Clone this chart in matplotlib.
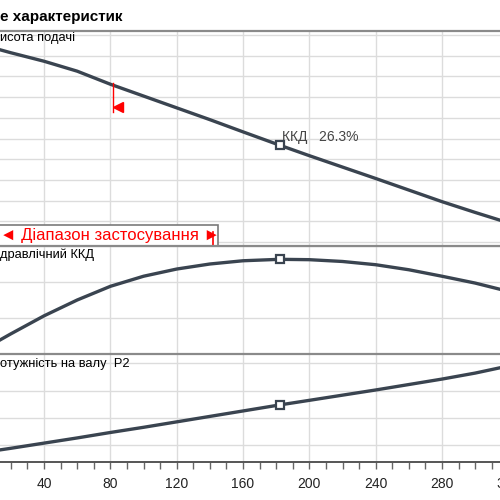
import numpy as np
import matplotlib
matplotlib.use("Agg")
import matplotlib.pyplot as plt
from matplotlib.patches import Rectangle

plt.rcParams['font.family'] = ['Liberation Sans', 'DejaVu Sans']

# flow values
q = [10, 20, 40, 60, 80, 100, 120, 140, 160, 182, 200, 220, 240, 260, 280, 300, 320]
# head, in grid steps
head = [9.36, 9.14, 8.73, 8.25, 7.62, 7.05, 6.48, 5.91, 5.32, 4.68, 4.17, 3.62, 3.07, 2.51, 1.95, 1.43, 0.93]
# hydraulic efficiency, %
eff = [3.0, 5.6, 10.6, 15.0, 18.8, 21.6, 23.6, 25.0, 25.9, 26.3, 26.2, 25.7, 24.8, 23.4, 21.6, 19.7, 17.4]
# shaft power P2, grid steps
power = [0.79, 0.88, 1.07, 1.26, 1.46, 1.65, 1.85, 2.05, 2.25, 2.47, 2.64, 2.83, 3.02, 3.22, 3.42, 3.64, 3.90]

duty_q = 182
duty_head = 4.68
duty_eff = 26.3
duty_power = 2.47
min_q = 81.4
range_end = 144.8

title = "е характеристик"
labels = ["исота подачі", "дравлічний ККД", "отужність на валу  P2"]

line_c = '#3a4450'
grid_c = '#dcdcdc'

fig = plt.figure(figsize=(5, 5), dpi=100)
xl, xw = -0.0446, 340 * 1.6583 / 500

ax1 = fig.add_axes([xl, 0.508, xw, 0.430])
ax2 = fig.add_axes([xl, 0.292, xw, 0.216])
ax3 = fig.add_axes([xl, 0.076, xw, 0.216])

for ax in (ax1, ax2, ax3):
    ax.set_xlim(0, 340)
    ax.set_xticks(np.arange(0, 341, 40))
    ax.grid(True, color=grid_c, lw=1)
    ax.set_axisbelow(True)
    for s in ('left', 'right', 'bottom'):
        ax.spines[s].set_visible(False)
    ax.spines['top'].set_color('#8a8a8a')
    ax.spines['top'].set_linewidth(1.6)
    ax.tick_params(left=False, labelleft=False, bottom=False, labelbottom=False)

ax1.set_ylim(-0.19, 10.19)
ax1.set_yticks(range(0, 11))
ax2.set_ylim(0, 28.6)
ax2.set_yticks([0, 10, 20, 30])
ax3.set_ylim(0.377, 4.34)
ax3.set_yticks([1, 2, 3, 4])

ax1.plot(q, head, color=line_c, lw=2.4, solid_capstyle='round')
ax2.plot(q, eff, color=line_c, lw=2.4)
ax3.plot(q, power, color=line_c, lw=2.4)

for ax, v in ((ax1, duty_head), (ax2, duty_eff), (ax3, duty_power)):
    ax.plot([duty_q], [v], marker='s', ms=6, mfc='white', mec=line_c, mew=1.6, zorder=5)

ax1.text(duty_q + 1.5, 5.07, "ККД   26.3%", color='#444444', fontsize=10, va='center', ha='left')

# minimum flow marker
ax1.plot([min_q, min_q], [6.28, 7.68], color='red', lw=1)
ax1.plot([min_q + 3.3], [6.5], marker='<', ms=7, color='red', mec='red')

# application range bar
ax1.add_patch(Rectangle((0, -0.19), range_end, 1.03, facecolor='white',
                        edgecolor='#7a7a7a', lw=1.2, zorder=4, clip_on=False))
ax1.text(13.5, 0.33, "◄ Діапазон застосування ►", color='red', fontsize=12,
         va='center', ha='left', zorder=6)
ax1.plot([141.7, 141.7], [-0.14, 0.48], color='red', lw=1.2, zorder=6)

# bottom axis
ax3.spines['bottom'].set_visible(True)
ax3.spines['bottom'].set_color('#555555')
ax3.spines['bottom'].set_linewidth(1.4)
ax3.set_xticks(np.arange(40, 341, 40))
ax3.set_xticks(np.arange(0, 341, 10), minor=True)
ax3.tick_params(axis='x', which='both', bottom=True, direction='out', length=5,
                color='#666666', width=1)
ax3.tick_params(axis='x', which='major', labelbottom=True, labelsize=10, pad=6, labelcolor='#222222')
ax3.xaxis.grid(True, which='major', color=grid_c, lw=1)

fig.text(0.0, 0.965, title, fontsize=11, fontweight='bold', va='center', ha='left')
fig.text(0.0, 0.924, labels[0], fontsize=9.3, va='center', ha='left')
fig.text(0.0, 0.490, labels[1], fontsize=9.3, va='center', ha='left')
fig.text(0.0, 0.273, labels[2], fontsize=9.3, va='center', ha='left')

fig.savefig('out.png', dpi=100, facecolor='white')
